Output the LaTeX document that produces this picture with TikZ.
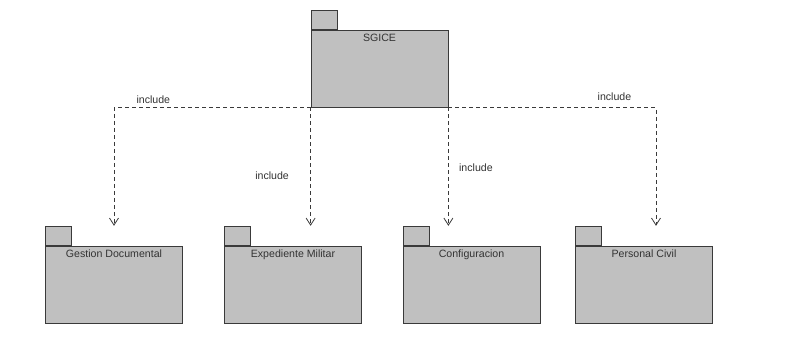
\documentclass[tikz,border=0pt]{standalone}
\usepackage{fontspec}
\setmainfont{Liberation Sans}
\usetikzlibrary{arrows.meta,positioning,calc}
\definecolor{pkgfill}{HTML}{C0C0C0}
\definecolor{pkgline}{HTML}{3A3A3A}
\definecolor{pkgtext}{HTML}{333333}

\begin{document}
\begin{tikzpicture}[x=1pt, y=-1pt, every node/.style={font=\fontsize{10.6}{12}\selectfont, text=pkgtext}, >={Straight Barb[length=7pt,width=9pt]},
	pkg/.style={draw=pkgline, fill=pkgfill, line width=0.8pt, minimum width=137pt, minimum height=77pt, inner sep=0pt},
	pkgtab/.style={draw=pkgline, fill=pkgfill, line width=0.8pt, minimum width=26pt, minimum height=19pt, inner sep=0pt, anchor=south west},
	pkgname/.style={inner sep=1pt},
	incl/.style={->, pkgline, line width=0.8pt, dash pattern=on 4pt off 3pt}]
	\useasboundingbox (0,0) rectangle (793,363);
	% main package
	\node[pkg] (sg) at (379.5,68.5) {};
	\node[pkgtab] (sgtab) at (sg.north west) {};
	\node[pkgname, below=3pt of sg.north] {SGICE};
	% included packages
	\node[pkg] (gd) at (114,284.5) {};
	\node[pkgtab] (gdtab) at (gd.north west) {};
	\node[pkgname, below=3pt of gd.north] {Gestion Documental};
	\node[pkg] (em) at (293,284.5) {};
	\node[pkgtab] (emtab) at (em.north west) {};
	\node[pkgname, below=3pt of em.north] {Expediente Militar};
	\node[pkg] (cf) at (471.5,284.5) {};
	\node[pkgtab] (cftab) at (cf.north west) {};
	\node[pkgname, below=3pt of cf.north] {Configuracion};
	\node[pkg] (pc) at (644,284.5) {};
	\node[pkgtab] (pctab) at (pc.north west) {};
	\node[pkgname, below=3pt of pc.north] {Personal Civil};
	% include dependencies
	\draw[incl] (sg.south west) -| node[pos=0.4, above] {include} (gd.north |- gdtab.north);
	\draw[incl] (sg.south west) -- node[pos=0.58, left=18pt] {include} (sg.south west |- emtab.north);
	\draw[incl] (sg.south east) -- node[pos=0.51, right=7pt] {include} (sg.south east |- cftab.north);
	\draw[incl] (sg.south east) -| node[pos=0.4, above=3pt] {include} ($(pc.north |- pctab.north)+(12,0)$);
\end{tikzpicture}
\end{document}
